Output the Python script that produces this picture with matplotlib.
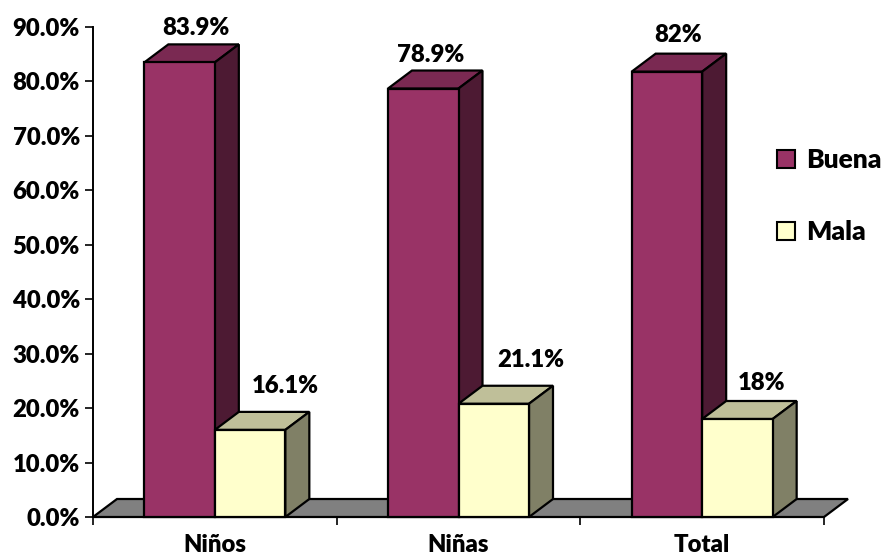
import matplotlib
matplotlib.use('Agg')
import matplotlib.pyplot as plt
from matplotlib.patches import Polygon, Rectangle

categories = ['Niños', 'Niñas', 'Total']
# heights as drawn in the picture, the printed labels differ a little
buena = [83.5, 78.7, 81.8]
mala = [16.0, 20.8, 18.0]
buena_labels = ['83.9%', '78.9%', '82%']
mala_labels = ['16.1%', '21.1%', '18%']
yticks = [0, 10, 20, 30, 40, 50, 60, 70, 80, 90]

plt.rcParams['font.family'] = ['Lato', 'DejaVu Sans']
plt.rcParams['font.weight'] = 'heavy'

W, H = 885, 556
fig = plt.figure(figsize=(W / 100, H / 100), dpi=100)
ax = fig.add_axes([93 / W, 1 - 517 / H, (824 - 93) / W, (517 - 27) / H])
ax.set_xlim(0, 3)
ax.set_ylim(0, 90)

# depth of the fake 3d, in data units
dx = 24 / (731 / 3)
dy = 18 / (490 / 90)
bar_w = 70.5 / (731 / 3)
lw = 1.6
edge = 'black'
px = 0.72  # points per pixel
fs = 17.2


def box(x, h, front, top, side):
    ax.add_patch(Polygon([(x, h), (x + dx, h + dy), (x + bar_w + dx, h + dy), (x + bar_w, h)],
                         fc=top, ec=edge, lw=lw, clip_on=False, zorder=3))
    ax.add_patch(Polygon([(x + bar_w, 0), (x + bar_w + dx, dy), (x + bar_w + dx, h + dy), (x + bar_w, h)],
                         fc=side, ec=edge, lw=lw, clip_on=False, zorder=3))
    ax.bar(x, h, width=bar_w, align='edge', color=front, edgecolor=edge, linewidth=lw, zorder=4, clip_on=False)


def label(x, h, text, off_x, off_y):
    ax.annotate(text, (x, h + dy), xytext=(off_x * px, off_y * px), textcoords='offset points',
                ha='center', va='center', fontsize=fs, fontweight='heavy', annotation_clip=False)


# floor
ax.add_patch(Polygon([(0, 0), (dx, dy), (3 + dx, dy), (3, 0)], fc='#808080', ec=edge, lw=lw,
                     clip_on=False, zorder=1))

buena_off = [(16, 16), (7, 16), (11, 19)]
mala_off = [(35, 26), (37, 26), (24, 18)]
for i in range(3):
    x1 = i + 0.5 - bar_w
    x2 = i + 0.5
    box(x1, buena[i], '#993366', '#7a2952', '#4d1a33')
    box(x2, mala[i], '#ffffcc', '#bfbf99', '#808066')
    label(x1 + bar_w / 2, buena[i], buena_labels[i], *buena_off[i])
    label(x2 + bar_w / 2, mala[i], mala_labels[i], *mala_off[i])

for s in ['top', 'right']:
    ax.spines[s].set_visible(False)
ax.spines['left'].set_linewidth(1.4)
ax.spines['bottom'].set_linewidth(1.4)
ax.spines['bottom'].set_zorder(5)

ax.set_xticks([0, 1, 2, 3])
ax.set_xticklabels([])
ax.set_xticks([0.5, 1.5, 2.5], labels=categories, minor=True, fontsize=fs, fontweight='heavy')
ax.tick_params(axis='x', which='major', length=6, width=1.2, direction='out')
ax.tick_params(axis='x', which='minor', length=0, pad=12.5)
ax.set_yticks(yticks)
ax.set_yticklabels([f'{v:.1f}%' for v in yticks], fontsize=fs, fontweight='heavy')
ax.tick_params(axis='y', length=6, width=1.2, pad=3.5)

# legend
leg_items = [('Buena', '#993366', 159), ('Mala', '#ffffcc', 231)]
for name, color, y in leg_items:
    fig.add_artist(Rectangle((777 / W, 1 - (y + 9) / H), 18 / W, 18 / H, fc=color, ec=edge, lw=1.5,
                             transform=fig.transFigure))
    fig.text(806 / W, 1 - (y + 1.5) / H, name, fontsize=19, fontweight='heavy', va='center', ha='left')

fig.savefig('out.png', dpi=100)
